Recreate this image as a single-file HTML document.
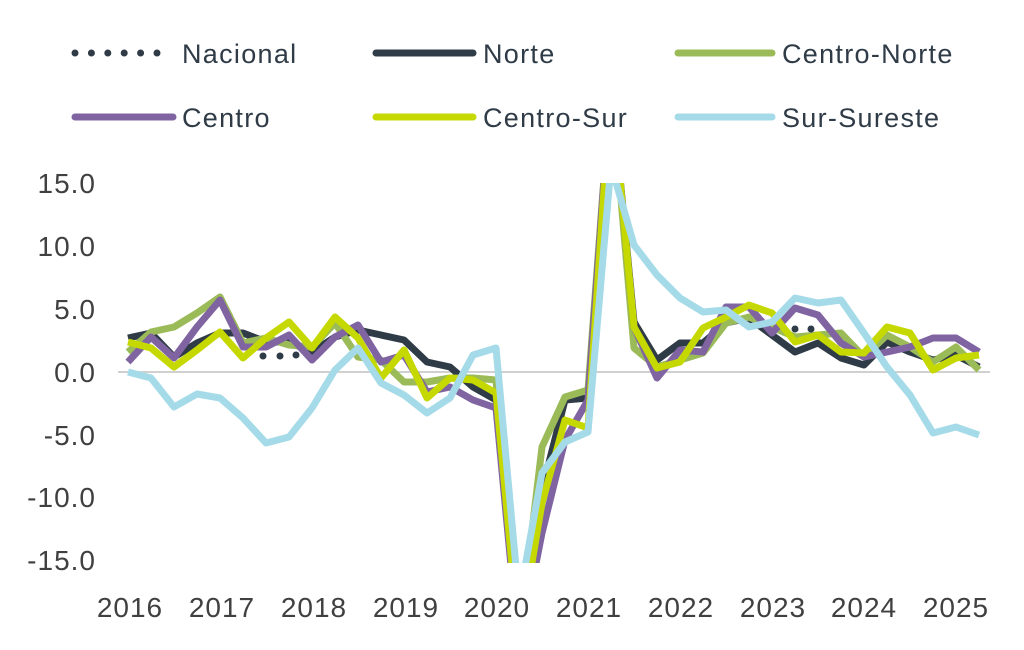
<!DOCTYPE html>
<html><head><meta charset="utf-8"><style>
body{margin:0;background:#fff;}
svg{display:block;}
text{font-family:"Liberation Sans",sans-serif;}
</style></head><body>
<svg width="1024" height="650" viewBox="0 0 1024 650">
<defs><clipPath id="c"><rect x="100" y="183" width="900" height="380"/></clipPath></defs>
<!-- legend -->
<g stroke-linecap="round" stroke-width="7" fill="none">
<line x1="75" y1="53" x2="158" y2="53" stroke="#2f3b47" stroke-dasharray="0 16.4"/>
<line x1="376" y1="53" x2="473" y2="53" stroke="#2f3b47"/>
<line x1="678" y1="53" x2="772" y2="53" stroke="#9bbb59"/>
<line x1="75" y1="117" x2="173" y2="117" stroke="#8064a2"/>
<line x1="376" y1="117" x2="473" y2="117" stroke="#c5d800"/>
<line x1="678" y1="117" x2="772" y2="117" stroke="#a5dbe8"/>
</g>
<g font-size="27" fill="#2f3b47" letter-spacing="1.3">
<text x="182" y="63">Nacional</text>
<text x="483" y="63">Norte</text>
<text x="782" y="63">Centro-Norte</text>
<text x="182" y="127">Centro</text>
<text x="483" y="127">Centro-Sur</text>
<text x="782" y="127">Sur-Sureste</text>
</g>
<!-- axes labels -->
<g font-size="28" fill="#404040" text-anchor="end" letter-spacing="1">
<text x="96" y="193">15.0</text>
<text x="96" y="256">10.0</text>
<text x="96" y="319">5.0</text>
<text x="96" y="382">0.0</text>
<text x="96" y="445">-5.0</text>
<text x="96" y="507">-10.0</text>
<text x="96" y="570">-15.0</text>
</g>
<g font-size="28" fill="#404040" text-anchor="middle" letter-spacing="1">
<text x="130" y="617">2016</text><text x="222" y="617">2017</text><text x="314" y="617">2018</text>
<text x="406" y="617">2019</text><text x="497" y="617">2020</text><text x="589" y="617">2021</text>
<text x="681" y="617">2022</text><text x="773" y="617">2023</text><text x="864" y="617">2024</text>
<text x="956" y="617">2025</text>
</g>
<line x1="118" y1="372" x2="990" y2="372" stroke="#d0d0d0" stroke-width="2"/>
<g clip-path="url(#c)" fill="none" stroke-width="7" stroke-linejoin="round">
<polyline stroke="#2f3b47" points="128,338 151,333 174,357 197,343 220,333 243,333 266,342 289,342 312,352 335,337 358,330 381,335 404,340 427,362 450,367 473,387 496,400 519,640 542,490 565,400 588,398 611,85 634,322 657,360 680,343 703,343 726,323 749,318 772,335 795,352 818,343 841,358 864,365 887,342 910,352 933,360 956,355 979,367"/>
<polyline stroke="#9bbb59" points="128,352 151,332 174,327 197,313 220,297 243,343 266,338 289,345 312,347 335,323 358,357 381,360 404,382 427,382 450,378 473,378 496,380 519,640 542,447 565,397 588,390 611,85 634,348 657,367 680,360 703,353 726,323 749,317 772,327 795,337 818,335 841,333 864,357 887,335 910,347 933,362 956,347 979,370"/>
<polyline stroke="#8064a2" points="128,362 151,337 174,358 197,327 220,300 243,347 266,347 289,335 312,360 335,337 358,325 381,362 404,355 427,392 450,387 473,400 496,408 519,650 542,533 565,440 588,400 611,85 634,327 657,378 680,350 703,352 726,307 749,307 772,333 795,308 818,315 841,343 864,357 887,352 910,347 933,338 956,338 979,352"/>
<polyline stroke="#c5d800" points="128,342 151,348 174,367 197,350 220,332 243,358 266,338 289,322 312,348 335,317 358,338 381,378 404,350 427,398 450,378 473,380 496,393 519,640 542,503 565,420 588,428 611,85 634,327 657,368 680,362 703,328 726,317 749,305 772,313 795,342 818,335 841,352 864,353 887,327 910,333 933,370 956,358 979,355"/>
<polyline stroke="#a5dbe8" points="128,372 151,378 174,407 197,394 220,398 243,418 266,443 289,437 312,408 335,370 358,348 381,383 404,395 427,413 450,398 473,355 496,348 519,600 542,473 565,442 588,432 611,165 634,245 657,275 680,298 703,312 726,310 749,327 772,322 795,298 818,303 841,300 864,333 887,367 910,395 933,433 956,427 979,435"/>
<g fill="#2f3b47"><circle cx="263" cy="356" r="3.5"/><circle cx="280" cy="356" r="3.5"/><circle cx="296" cy="355" r="3.5"/><circle cx="795" cy="329" r="3.5"/><circle cx="811" cy="329" r="3.5"/></g>
</g>
</svg>
</body></html>
